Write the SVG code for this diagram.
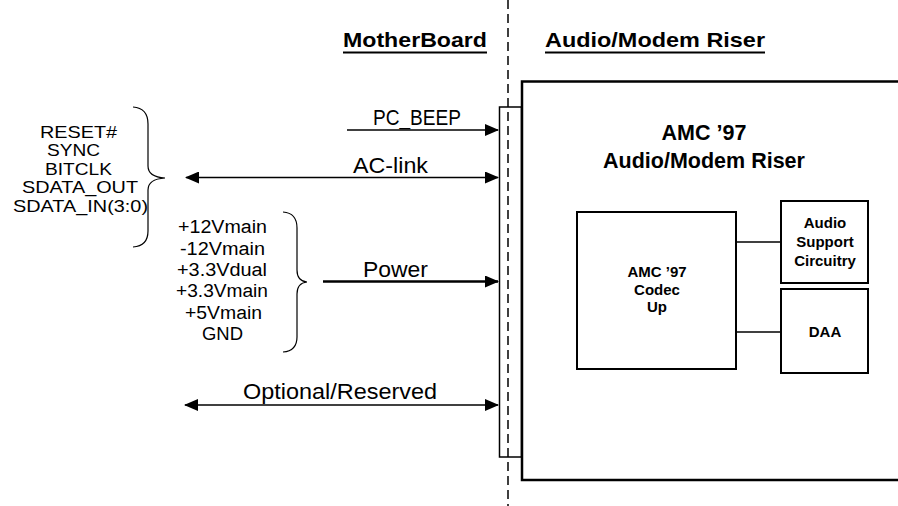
<svg xmlns="http://www.w3.org/2000/svg" width="898" height="506" viewBox="0 0 898 506">
<style>
text{font-family:"Liberation Sans",Arial,sans-serif;fill:#000}
.lbl{font-size:22px}
.lst{font-size:16.5px}
.pw{font-size:18px}
.hdr{font-size:21px;font-weight:bold}
.bt{font-weight:bold;text-anchor:middle}
.box{fill:none;stroke:#000;stroke-width:2.5}
.conn{fill:none;stroke:#000;stroke-width:1.5}
.brace{fill:none;stroke:#000;stroke-width:1.2}
</style>
<defs>
<marker id="ah" markerUnits="userSpaceOnUse" markerWidth="14" markerHeight="12" viewBox="0 0 14 12" refX="13" refY="6" orient="auto-start-reverse">
<path d="M0,0 L14,6 L0,12 Z" fill="#000"/>
</marker>
</defs>
<rect width="898" height="506" fill="#fff"/>
<line x1="508" y1="0" x2="508" y2="506" stroke="#000" stroke-width="1.5" stroke-dasharray="9,5"/>
<g id="headers">
<text class="hdr" x="343" y="47" textLength="144" lengthAdjust="spacingAndGlyphs">MotherBoard</text>
<line x1="343" y1="52.5" x2="487" y2="52.5" stroke="#000" stroke-width="2"/>
<text class="hdr" x="545" y="47" textLength="220" lengthAdjust="spacingAndGlyphs">Audio/Modem Riser</text>
<line x1="545" y1="52.5" x2="765" y2="52.5" stroke="#000" stroke-width="2"/>
</g>
<g id="riser">
<rect class="box" x="522" y="81.5" width="390" height="398.5"/>
<text class="bt" x="704" y="140" font-size="21.5">AMC ’97</text>
<text class="bt" x="704" y="168" font-size="21.5">Audio/Modem Riser</text>
</g>
<g id="connector">
<rect x="499.5" y="107" width="22" height="350" fill="none" stroke="#000" stroke-width="1.5"/>
</g>
<g id="codec">
<rect x="577" y="212" width="159" height="157" fill="none" stroke="#000" stroke-width="2"/>
<text class="bt" x="657" y="277" font-size="15">AMC ’97</text>
<text class="bt" x="657" y="295" font-size="15">Codec</text>
<text class="bt" x="657" y="312" font-size="15">Up</text>
</g>
<g id="audio-support">
<rect x="781" y="201" width="87" height="82" fill="none" stroke="#000" stroke-width="2"/>
<text class="bt" x="825" y="228" font-size="15">Audio</text>
<text class="bt" x="825" y="247" font-size="15">Support</text>
<text class="bt" x="825" y="266" font-size="15">Circuitry</text>
</g>
<g id="daa">
<rect x="781" y="289" width="87" height="84" fill="none" stroke="#000" stroke-width="2"/>
<text class="bt" x="825" y="337" font-size="15">DAA</text>
</g>
<g id="aclink-signals">
<text class="lst" x="40" y="137.5" textLength="77" lengthAdjust="spacingAndGlyphs">RESET#</text>
<text class="lst" x="47" y="156" textLength="53" lengthAdjust="spacingAndGlyphs">SYNC</text>
<text class="lst" x="45" y="174.7" textLength="67" lengthAdjust="spacingAndGlyphs">BITCLK</text>
<text class="lst" x="22" y="193.3" textLength="116" lengthAdjust="spacingAndGlyphs">SDATA_OUT</text>
<text class="lst" x="13" y="212" textLength="135" lengthAdjust="spacingAndGlyphs">SDATA_IN(3:0)</text>
<path class="brace" d="M133,107 Q148,108 148,124 L148,166 Q148,177 165,178 Q148,179 148,190 L148,231 Q148,246 133,247"/>
</g>
<g id="power-signals">
<text class="pw" x="178" y="233.3" textLength="89" lengthAdjust="spacingAndGlyphs">+12Vmain</text>
<text class="pw" x="180" y="254.7" textLength="85" lengthAdjust="spacingAndGlyphs">-12Vmain</text>
<text class="pw" x="177" y="276" textLength="90" lengthAdjust="spacingAndGlyphs">+3.3Vdual</text>
<text class="pw" x="176" y="297.4" textLength="92" lengthAdjust="spacingAndGlyphs">+3.3Vmain</text>
<text class="pw" x="185" y="318.8" textLength="77" lengthAdjust="spacingAndGlyphs">+5Vmain</text>
<text class="pw" x="202" y="340.2" textLength="41" lengthAdjust="spacingAndGlyphs">GND</text>
<path class="brace" d="M283,212 Q297,213 297,228 L297,270 Q297,281 307,282 Q297,283 297,294 L297,337 Q297,351 283,352"/>
</g>
<g id="connectors">
<line class="conn" x1="347" y1="130" x2="498" y2="130" marker-end="url(#ah)"/>
<line class="conn" x1="186" y1="177.5" x2="498" y2="177.5" marker-start="url(#ah)" marker-end="url(#ah)"/>
<line x1="323" y1="281.5" x2="498" y2="281.5" stroke="#000" stroke-width="2.5" marker-end="url(#ah)"/>
<line class="conn" x1="185" y1="405" x2="498" y2="405" marker-start="url(#ah)" marker-end="url(#ah)"/>
<line class="conn" x1="736" y1="242" x2="781" y2="242"/>
<line class="conn" x1="736" y1="332" x2="781" y2="332"/>
<text class="lbl" x="373" y="125" font-size="18.5" textLength="88" lengthAdjust="spacingAndGlyphs">PC_BEEP</text>
<text class="lbl" x="353" y="173" textLength="75" lengthAdjust="spacingAndGlyphs">AC-link</text>
<text class="lbl" x="363" y="277" textLength="65" lengthAdjust="spacingAndGlyphs">Power</text>
<text class="lbl" x="243" y="399" textLength="194" lengthAdjust="spacingAndGlyphs">Optional/Reserved</text>
</g>
</svg>
